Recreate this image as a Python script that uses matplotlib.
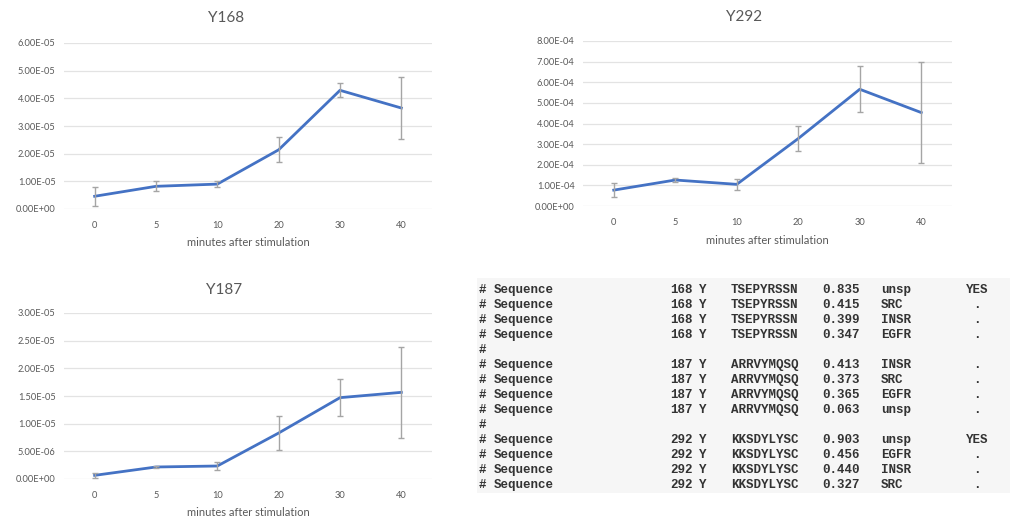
import numpy as np
import matplotlib
matplotlib.use('Agg')
import matplotlib.pyplot as plt
from matplotlib.patches import Rectangle
from matplotlib.ticker import FormatStrFormatter

# data
minutes = ['0', '5', '10', '20', '30', '40']

y168 = [4.6e-6, 8.2e-6, 9.0e-6, 2.14e-5, 4.29e-5, 3.65e-5]
y168_err = [3.5e-6, 1.8e-6, 1.2e-6, 4.5e-6, 2.5e-6, 1.13e-5]

y292 = [7.7e-5, 1.26e-4, 1.05e-4, 3.27e-4, 5.66e-4, 4.53e-4]
y292_err = [3.3e-5, 1.0e-5, 2.7e-5, 6.2e-5, 1.12e-4, 2.46e-4]

y187 = [6.6e-7, 2.17e-6, 2.35e-6, 8.31e-6, 1.47e-5, 1.566e-5]
y187_err = [5e-7, 1e-7, 8e-7, 3.1e-6, 3.4e-6, 8.25e-6]

tab_pos = ['168', '168', '168', '168', '', '187', '187', '187', '187', '', '292', '292', '292', '292']
tab_seq = ['TSEPYRSSN'] * 4 + [''] + ['ARRVYMQSQ'] * 4 + [''] + ['KKSDYLYSC'] * 4
tab_score = ['0.835', '0.415', '0.399', '0.347', '', '0.413', '0.373', '0.365', '0.063', '',
             '0.903', '0.456', '0.440', '0.327']
tab_kin = ['unsp', 'SRC', 'INSR', 'EGFR', '', 'INSR', 'SRC', 'EGFR', 'unsp', '',
           'unsp', 'EGFR', 'INSR', 'SRC']
tab_flag = ['YES', '.', '.', '.', '', '.', '.', '.', '.', '', 'YES', '.', '.', '.']

W, H = 1010, 518
fig = plt.figure(figsize=(W / 100, H / 100), dpi=100)
fig.patch.set_facecolor('white')

txt_col = '#595959'
plt.rcParams['font.family'] = ['Lato', 'DejaVu Sans']


def px_axes(x0, y0, x1, y1):
    # pixel box (top-left origin) -> figure axes
    return fig.add_axes([x0 / W, 1 - y1 / H, (x1 - x0) / W, (y1 - y0) / H])


def chart(box, vals, errs, ymax, step, title, title_xy):
    ax = px_axes(*box)
    x = np.arange(len(minutes))
    ax.plot(x, vals, color='#4472C4', lw=2.0, solid_joinstyle='round', zorder=2)
    ax.errorbar(x, vals, yerr=errs, fmt='none', ecolor='#a5a5a5', elinewidth=1,
                capsize=2, capthick=1, zorder=3)
    ax.set_xlim(-0.5, len(minutes) - 0.5)
    ax.set_ylim(0, ymax)
    ax.set_yticks(np.arange(0, ymax + step / 2, step))
    ax.yaxis.set_major_formatter(FormatStrFormatter('%.2E'))
    ax.set_xticks(x)
    ax.set_xticklabels(minutes)
    for s in ax.spines.values():
        s.set_visible(False)
    ax.grid(axis='y', color='#e3e3e3', lw=0.9)
    ax.set_axisbelow(True)
    ax.tick_params(length=0, labelsize=6.7, labelcolor=txt_col)
    ax.tick_params(axis='y', pad=6)
    ax.tick_params(axis='x', pad=8.5)
    ax.set_xlabel('minutes after stimulation', fontsize=8, color=txt_col)
    hgt = box[3] - box[1]
    ax.xaxis.set_label_coords(0.5, -34 / hgt)
    ax.xaxis.label.set_va('center')
    fig.text(title_xy[0] / W, 1 - title_xy[1] / H, title, fontsize=11,
             color=txt_col, ha='center', va='center')
    return ax


chart((64, 43, 432, 209), y168, y168_err, 6e-5, 1e-5, 'Y168', (226, 18))
chart((583, 41, 952, 206), y292, y292_err, 8e-4, 1e-4, 'Y292', (744, 17))
chart((64, 313, 432, 479), y187, y187_err, 3e-5, 5e-6, 'Y187', (224, 290))

# table screenshot
fig.patches.append(Rectangle((477 / W, 1 - 493 / H), (W - 477) / W, (493 - 278) / H,
                             transform=fig.transFigure, facecolor='#f6f6f6',
                             edgecolor='none', zorder=0))

mono = dict(family='Liberation Mono', weight='bold', fontsize=9, color='#333333', va='center')
for i in range(len(tab_pos)):
    yy = 1 - (290 + 15 * i) / H
    fig.text(479 / W, yy, '#', **mono)
    if tab_pos[i] == '':
        continue
    fig.text(494 / W, yy, 'Sequence', **mono)
    fig.text(670 / W, yy, tab_pos[i], **mono)
    fig.text(699 / W, yy, 'Y', **mono)
    fig.text(731 / W, yy, tab_seq[i], **mono)
    fig.text(822 / W, yy, tab_score[i], **mono)
    fig.text(881 / W, yy, tab_kin[i], **mono)
    if tab_flag[i] == 'YES':
        fig.text(988 / W, yy, tab_flag[i], ha='right', **mono)
    else:
        fig.text(977 / W, yy, tab_flag[i], ha='center', **mono)

fig.savefig('out.png', dpi=100)
